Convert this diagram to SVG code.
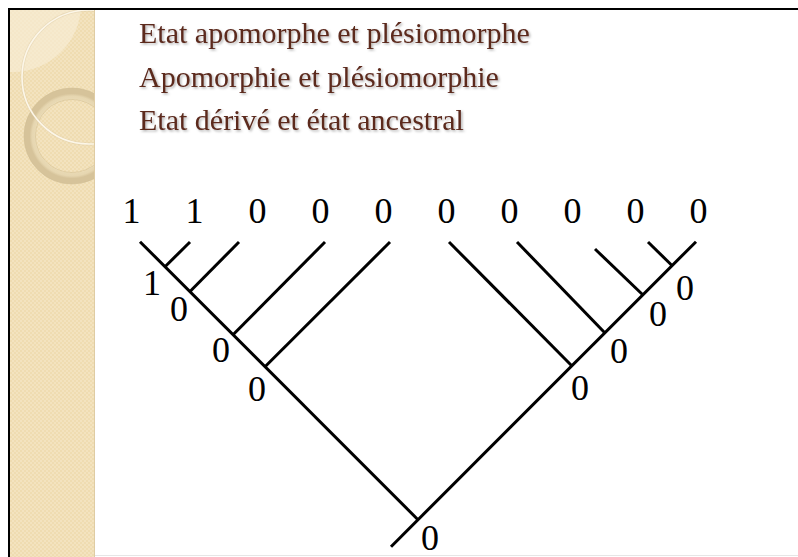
<svg xmlns="http://www.w3.org/2000/svg" width="798" height="557" viewBox="0 0 798 557">
  <defs>
    <pattern id="dots" width="4" height="4" patternUnits="userSpaceOnUse">
      <rect width="4" height="4" fill="#efdcb1"/>
      <rect width="2" height="2" fill="#f3e3bf"/>
      <rect x="2" y="2" width="2" height="2" fill="#f3e3bf"/>
    </pattern>
    <radialGradient id="ringGrad" cx="0.5" cy="0.5" r="0.5">
      <stop offset="0.74" stop-color="#d9c7a0"/>
      <stop offset="0.8" stop-color="#ebdcb8"/>
      <stop offset="0.94" stop-color="#e6d6b0"/>
      <stop offset="1" stop-color="#d6c39a"/>
    </radialGradient>
    <clipPath id="bandClip">
      <rect x="10" y="10" width="85" height="547"/>
    </clipPath>
    <filter id="shadow" x="-5%" y="-20%" width="110%" height="150%">
      <feDropShadow dx="1.5" dy="1.5" stdDeviation="1" flood-color="#000" flood-opacity="0.3"/>
    </filter>
    <style>
      .title { font-family: "Liberation Serif", "Times New Roman", serif; font-size: 30px; fill: #5b2a1e; }
      .num { font-family: "Liberation Serif", "Times New Roman", serif; font-size: 36px; fill: #000; text-anchor: middle; }
      .edge { stroke: #000; stroke-width: 3; fill: none; stroke-linecap: butt; }
    </style>
  </defs>

  <rect x="0" y="0" width="798" height="557" fill="#ffffff"/>

  <!-- decorative band -->
  <g id="band">
    <rect x="10" y="10" width="85" height="547" fill="url(#dots)"/>
    <g clip-path="url(#bandClip)">
      <circle cx="13" cy="4" r="68" fill="#f8eed8" opacity="0.6"/>
      <circle cx="72" cy="136" r="42.5" fill="none" stroke="url(#ringGrad)" stroke-width="11"/>
      <circle cx="72" cy="136" r="48" fill="none" stroke="#d2bf96" stroke-width="1" opacity="0.6"/>
      <circle cx="72" cy="136" r="36.5" fill="none" stroke="#d2bf96" stroke-width="1" opacity="0.6"/>
      <circle cx="89" cy="77" r="67" fill="none" stroke="#dccaa3" stroke-width="3" opacity="0.45"/>
      <circle cx="89" cy="77" r="67" fill="none" stroke="#fcf6e8" stroke-width="1.6"/>
    </g>
    <line x1="94.5" y1="10" x2="94.5" y2="557" stroke="#dfcca3" stroke-width="1"/>
  </g>

  <!-- slide frame -->
  <line x1="9" y1="9" x2="798" y2="9" stroke="#000" stroke-width="2"/>
  <line x1="9" y1="8" x2="9" y2="557" stroke="#000" stroke-width="2"/>
  <line x1="95" y1="555.5" x2="798" y2="555.5" stroke="#e6e6e6" stroke-width="1"/>

  <!-- title -->
  <g id="title" filter="url(#shadow)">
    <text class="title" x="139" y="43">Etat apomorphe et plésiomorphe</text>
    <text class="title" x="139" y="86.5">Apomorphie et plésiomorphie</text>
    <text class="title" x="139" y="130">Etat dérivé et état ancestral</text>
  </g>

  <!-- connectors -->
  <g id="connectors">
    <line class="edge" x1="140" y1="241.7" x2="418" y2="519.7"/>
    <line class="edge" x1="696" y1="241.7" x2="391" y2="546.7"/>
    <line class="edge" x1="190" y1="242" x2="165" y2="266.7"/>
    <line class="edge" x1="239" y1="242" x2="190" y2="291.5"/>
    <line class="edge" x1="325" y1="242" x2="233" y2="334.7"/>
    <line class="edge" x1="390" y1="242" x2="265" y2="366.7"/>
    <line class="edge" x1="449" y1="242" x2="572" y2="366"/>
    <line class="edge" x1="517" y1="242" x2="605" y2="333"/>
    <line class="edge" x1="595" y1="249" x2="643" y2="295"/>
    <line class="edge" x1="648" y1="242" x2="672" y2="265.5"/>
  </g>

  <!-- leaf labels -->
  <g id="leaf1"><text class="num" x="131.5" y="223">1</text></g>
  <g id="leaf2"><text class="num" x="194.5" y="223">1</text></g>
  <g id="leaf3"><text class="num" x="257.5" y="223">0</text></g>
  <g id="leaf4"><text class="num" x="320.5" y="223">0</text></g>
  <g id="leaf5"><text class="num" x="383.5" y="223">0</text></g>
  <g id="leaf6"><text class="num" x="446.5" y="223">0</text></g>
  <g id="leaf7"><text class="num" x="509.5" y="223">0</text></g>
  <g id="leaf8"><text class="num" x="572.5" y="223">0</text></g>
  <g id="leaf9"><text class="num" x="635.5" y="223">0</text></g>
  <g id="leaf10"><text class="num" x="698.5" y="223">0</text></g>

  <!-- internal node labels -->
  <g id="nodeL1"><text class="num" x="152" y="295">1</text></g>
  <g id="nodeL2"><text class="num" x="179" y="321">0</text></g>
  <g id="nodeL3"><text class="num" x="221" y="362">0</text></g>
  <g id="nodeL4"><text class="num" x="257" y="401">0</text></g>
  <g id="nodeR1"><text class="num" x="580" y="400">0</text></g>
  <g id="nodeR2"><text class="num" x="619" y="363">0</text></g>
  <g id="nodeR3"><text class="num" x="658" y="326">0</text></g>
  <g id="nodeR4"><text class="num" x="685" y="300">0</text></g>
  <g id="root"><text class="num" x="430" y="550">0</text></g>
</svg>
